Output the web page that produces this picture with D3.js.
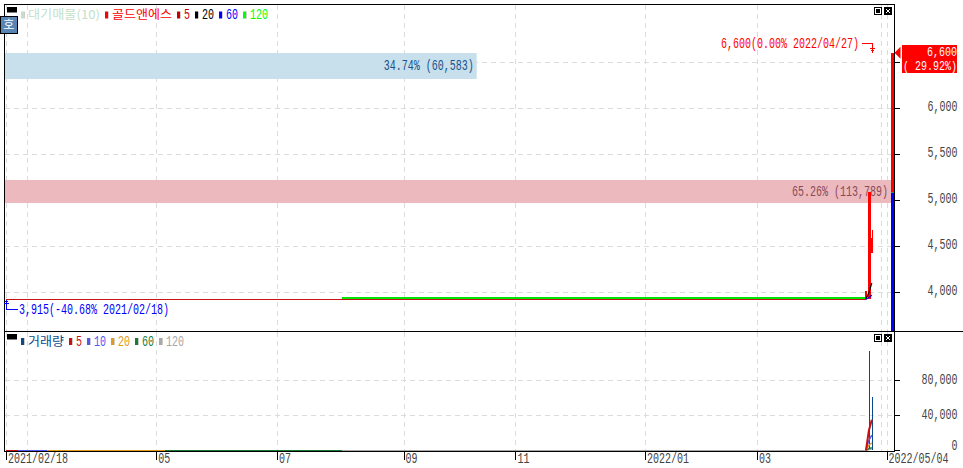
<!DOCTYPE html>
<html><head><meta charset="utf-8">
<style>html,body{margin:0;padding:0;background:#fff}svg{display:block}</style>
<script src="https://cdn.jsdelivr.net/npm/d3@7/dist/d3.min.js"></script>
</head><body><svg id="c" width="963" height="468"></svg>
<script>
// ---- data (x positions are trading-session numbers) ----
const priceTicks = [4000, 4500, 5000, 5500, 6000, 6500];
const priceTickLabels = [4000, 4500, 5000, 5500, 6000];
const volumeTicks = [0, 40000, 80000];
const gridSessions = [0, 7, 51, 92, 135, 173, 217, 255, 297, 299];
const labelSessions = [0, 51, 92, 135, 173, 217, 255, 299];
const dateLabels = ["2021/02/18", "05", "07", "09", "11", "2022/01", "03", "2022/05/04"];

const flatSessions = [0, 292];
const flatPrices = [3915, 3915];
const ma120Sessions = [114, 292];
const ma120Prices = [3926, 3926];
const ma20Sessions = [292, 293, 294];
const ma20Prices = [3915, 3990, 4092];
const ma60Sessions = [292, 293, 294];
const ma60Prices = [3915, 3935, 3960];

const candleSessions = [292, 293, 294];
const candleOpens = [3915, 3915, 4420];
const candleCloses = [4010, 5080, 4583];
const candleHighs = [4010, 5080, 4670];
const candleLows = [3915, 3915, 4420];

const currentUpOpen = 5080, currentUpClose = 6600, currentDownLow = 3500, currentSession = 301;

const bandLows = [6315, 4964];
const bandHighs = [6598, 5215];
const bandVolumes = [60583, 113789];
const bandShares = ["34.74%", "65.26%"];

const volumeSessions = [293, 294];
const volumeValues = [113789, 60583];
const volBaseSessions = [0, 4, 14, 54, 114, 292];
const volMaSessions = [292, 293, 294];
const volMa5 = [0, 22758, 34874];
const volMa10 = [0, 11379, 17437];
const volMa20 = [0, 5689, 8718];
const volMa60 = [0, 1896, 2906];
const volMa120 = [0, 948, 1453];

const highText = "6,600(0.00% 2022/04/27)";
const lowText = "3,915(-40.68% 2021/02/18)";
const lastValue = "6,600", lastChange = "( 29.92%)";
const highPrice = 6600, highSession = 294, lowPrice = 3915, lowSession = 0;

const topLegend = [["대기매물(10)", "#c4e0c8"], ["골드앤에스", "#ff0000"], ["5", "#cc0000"], ["20", "#000000"], ["60", "#0000ff"], ["120", "#00ff00"]];
const bottomLegend = [["거래량", "#0a4a8c"], ["5", "#cc1010"], ["10", "#5058f0"], ["20", "#e09a20"], ["60", "#1a7a3a"], ["120", "#a8a8a8"]];

// ---- scales ----
const x = d3.scaleLinear().domain([0, 300]).range([6, 889.5]);
const y = d3.scaleLinear().domain([4000, 6500]).range([291.5, 62]);
const v = d3.scaleLinear().domain([0, 80000]).range([450.3, 380.3]);
const bandW = d3.scaleLinear().domain([0, 113789]).range([5, 891]);

const L = 4.5, R = 894.5, T = 4.5, S = 331.5, B = 451.5;
const svg = d3.select("#c");
const mono = '"Liberation Mono","DejaVu Sans Mono",monospace';
const cjk = '"Noto Sans CJK KR","Noto Sans",sans-serif';
const textW = s => Array.from(s).reduce((a, ch) => a + (ch.charCodeAt(0) > 255 ? 12 : 6), 0);

function label(sel, s, px, py, color, anchor, size) {
  const isCjk = /[^\x00-\x7f]/.test(s);
  const t = sel.append("text").attr("text-anchor", anchor || "start").attr("fill", color).text(s);
  if (isCjk) {
    t.attr("x", px).attr("y", py + 4.5).attr("font-family", cjk).attr("font-size", 12)
      .attr("textLength", textW(s)).attr("lengthAdjust", "spacingAndGlyphs");
  } else {
    const fs = size || 14;
    t.attr("transform", `translate(${px},${py + 4.5}) scale(${6 / (fs * 0.6)},1)`).attr("font-family", mono).attr("font-size", fs);
  }
  return t;
}
function styleAxisText(sel, px, py, anchor) {
  sel.attr("x", null).attr("y", null).attr("dy", null).attr("text-anchor", anchor)
    .attr("transform", (d, i) => `translate(${px},${typeof py === "function" ? py(d) : py}) scale(${6 / 8.4},1)`)
    .attr("font-family", mono).attr("font-size", 14).attr("fill", "#444");
}

svg.append("defs").append("clipPath").attr("id", "top").append("rect")
  .attr("x", L).attr("y", T).attr("width", R - L).attr("height", S - T);

// grid
const grid = svg.append("g").attr("stroke", "#dcdcdc").attr("stroke-dasharray", "5,4").attr("shape-rendering", "crispEdges");
const gx = d => Math.round(x(d)) + .5;
grid.selectAll(".gx").data(gridSessions).join("line").attr("x1", gx).attr("x2", gx).attr("y1", T).attr("y2", S);
grid.selectAll(".gx2").data(gridSessions).join("line").attr("x1", gx).attr("x2", gx).attr("y1", S).attr("y2", B);
grid.selectAll(".gy").data(priceTicks).join("line").attr("x1", L).attr("x2", R).attr("y1", d => Math.round(y(d)) + .5).attr("y2", d => Math.round(y(d)) + .5);
grid.selectAll(".gv").data(volumeTicks.slice(1)).join("line").attr("x1", L).attr("x2", R).attr("y1", d => Math.round(v(d)) + .5).attr("y2", d => Math.round(v(d)) + .5);

// price-volume bands
const bandFill = ["#c8dfec", "#ecb9bf"], bandText = ["#14528c", "#8a4a55"];
bandVolumes.forEach((vol, i) => {
  svg.append("rect").attr("x", bandW(0)).attr("width", bandW(vol) - bandW(0))
    .attr("y", y(bandHighs[i])).attr("height", y(bandLows[i]) - y(bandHighs[i])).attr("fill", bandFill[i]);
  label(svg, `${bandShares[i]} (${d3.format(",")(vol)})`, bandW(vol) - 3, (y(bandHighs[i]) + y(bandLows[i])) / 2, bandText[i], "end");
});

// price panel
const main = svg.append("g").attr("clip-path", "url(#top)");
const line = (xs, ys, sc) => d3.line().x((d, i) => x(xs[i])).y((d, i) => sc(ys[i]))(ys);
main.append("path").attr("d", line(flatSessions, flatPrices, y)).attr("fill", "none").attr("stroke", "#c81414").attr("stroke-width", 1).attr("shape-rendering", "crispEdges");
main.append("path").attr("d", line(ma120Sessions, ma120Prices, y)).attr("fill", "none").attr("stroke", "#00e600").attr("stroke-width", 2).attr("shape-rendering", "crispEdges");
candleSessions.forEach((s, i) => {
  const px = Math.round(x(s));
  main.append("line").attr("x1", px + .5).attr("x2", px + .5).attr("y1", y(candleHighs[i])).attr("y2", y(candleLows[i])).attr("stroke", "#ff0000").attr("shape-rendering", "crispEdges");
  const w = i === 1 ? 3 : 2;
  main.append("rect").attr("x", px - 1).attr("width", w).attr("y", y(candleCloses[i]))
    .attr("height", y(candleOpens[i]) - y(candleCloses[i])).attr("fill", "#ff0000").attr("shape-rendering", "crispEdges");
});
main.append("path").attr("d", line(ma20Sessions, ma20Prices, y)).attr("fill", "none").attr("stroke", "#000").attr("stroke-width", 1.2);
main.append("path").attr("d", line(ma60Sessions, ma60Prices, y)).attr("fill", "none").attr("stroke", "#0000ff").attr("stroke-width", 1.2);
const cx = Math.round(x(currentSession) - 1.5);
main.append("rect").attr("x", cx).attr("width", 3).attr("y", y(currentUpClose)).attr("height", y(currentUpOpen) - y(currentUpClose)).attr("fill", "#ff0000").attr("shape-rendering", "crispEdges");
main.append("rect").attr("x", cx).attr("width", 3).attr("y", y(currentUpOpen)).attr("height", y(currentDownLow) - y(currentUpOpen)).attr("fill", "#0000ff").attr("shape-rendering", "crispEdges");
main.append("rect").attr("x", cx).attr("width", 3).attr("y", y(currentUpOpen) - .5).attr("height", 1).attr("fill", "#22a050").attr("shape-rendering", "crispEdges");

// volume panel
const volColors = bottomLegend.slice(1).map(d => d[1]);
volBaseSessions.slice(0, -1).forEach((s, i) => {
  svg.append("line").attr("x1", x(s)).attr("x2", x(volBaseSessions[i + 1])).attr("y1", v(0)).attr("y2", v(0)).attr("stroke", volColors[i]).attr("shape-rendering", "crispEdges");
});
volumeSessions.forEach((s, i) => {
  svg.append("rect").attr("x", Math.round(x(s))).attr("width", 1).attr("y", v(volumeValues[i])).attr("height", v(0) - v(volumeValues[i])).attr("fill", "#0a4a8c").attr("shape-rendering", "crispEdges");
});
[volMa120, volMa60, volMa20, volMa10, volMa5].forEach((arr, i) => {
  svg.append("path").attr("d", line(volMaSessions, arr, v)).attr("fill", "none")
    .attr("stroke", volColors[4 - i]).attr("stroke-width", i === 4 ? 2 : 1.4);
});

// frame
const frame = svg.append("g").attr("stroke", "#000").attr("shape-rendering", "crispEdges");
frame.append("rect").attr("x", L).attr("y", T).attr("width", R - L).attr("height", B - T).attr("fill", "none");
frame.append("line").attr("x1", L).attr("x2", 963).attr("y1", S).attr("y2", S);

// axes
const pa = svg.append("g").attr("transform", `translate(${R},0)`)
  .call(d3.axisRight(y).tickValues(priceTicks).tickSize(5).tickFormat(d => priceTickLabels.includes(d) ? d3.format(",")(d) : ""));
const va = svg.append("g").attr("transform", `translate(${R},0)`)
  .call(d3.axisRight(v).tickValues(volumeTicks).tickSize(5).tickFormat(d3.format(",")));
const xa = svg.append("g").attr("transform", `translate(0,${B})`)
  .call(d3.axisBottom(x).tickValues(labelSessions).tickSize(8).tickFormat((d, i) => dateLabels[i]));
[pa, va, xa].forEach(a => { a.select(".domain").remove(); a.selectAll("line").attr("stroke", "#000").attr("shape-rendering", "crispEdges"); });
pa.selectAll("text").call(styleAxisText, 63, 3, "end");
va.selectAll("text").call(styleAxisText, 63, d => (d === 0 ? -1 : 3), "end");
xa.selectAll("text").call(styleAxisText, 1.5, 11, "start");

// annotations
label(svg, highText, 859, 43, "#ff0000", "end");
const hx = Math.round(x(highSession)) + .5;
svg.append("path").attr("d", `M862,43.5H${hx}V${y(highPrice)}`).attr("fill", "none").attr("stroke", "#ff0000").attr("shape-rendering", "crispEdges");
svg.append("path").attr("d", `M${hx - 2.5},48.5H${hx + 2.5}M${hx - 1.5},50.5H${hx + 1.5}`).attr("stroke", "#ff0000").attr("shape-rendering", "crispEdges");
label(svg, lowText, 19, 309, "#0000ff");
const lx = Math.round(x(lowSession)) + .5;
svg.append("path").attr("d", `M18,309.5H${lx}V${y(lowPrice) + 1}`).attr("fill", "none").attr("stroke", "#0000ff").attr("shape-rendering", "crispEdges");
svg.append("path").attr("d", `M${lx - 2.5},303.5H${lx + 2.5}M${lx - 1.5},301.5H${lx + 1.5}`).attr("stroke", "#0000ff").attr("shape-rendering", "crispEdges");

// current price tag
svg.append("path").attr("d", d3.line()([[894.5, y(highPrice)], [900.5, y(highPrice) - 6], [900.5, y(highPrice) + 6]])).attr("fill", "#ff0000");
svg.append("rect").attr("x", 902).attr("y", 45).attr("width", 55).attr("height", 28).attr("fill", "#ff0000");
label(svg, lastValue, 957, 51, "#fff", "end", 12);
label(svg, lastChange, 957, 65, "#fff", "end", 12);

// legends
function legend(items, py, xs) {
  items.forEach((d, i) => {
    svg.append("rect").attr("x", xs[i] + 3).attr("y", py - 3).attr("width", 1).attr("height", 7).attr("fill", "#ccc");
    svg.append("rect").attr("x", xs[i]).attr("y", py - 3).attr("width", 3).attr("height", 7).attr("fill", d[1]);
    label(svg, d[0], xs[i] + 7, py, d[1]);
  });
}
legend(topLegend, 14.5, [21, 105, 177, 195, 219, 243]);
legend(bottomLegend, 341, [21, 69, 87, 111, 135, 159]);

// window widgets
function widgets(py) {
  svg.append("rect").attr("x", 7).attr("y", py).attr("width", 10).attr("height", 5.5).attr("fill", "#000");
  svg.append("rect").attr("x", 874.5).attr("y", py + .5).attr("width", 7).attr("height", 7).attr("fill", "#fff").attr("stroke", "#000").attr("shape-rendering", "crispEdges");
  svg.append("rect").attr("x", 876).attr("y", py + 2).attr("width", 4).attr("height", 4).attr("fill", "#000");
  svg.append("rect").attr("x", 884).attr("y", py).attr("width", 8).attr("height", 8).attr("fill", "#000");
  svg.append("path").attr("d", `M886,${py + 2}l4,4M890,${py + 2}l-4,4`).attr("stroke", "#fff");
}
widgets(7);
widgets(334);
svg.append("rect").attr("x", .5).attr("y", 16.5).attr("width", 16.5).attr("height", 16.5).attr("fill", "#5a84b4").attr("stroke", "#000").attr("shape-rendering", "crispEdges");
svg.append("text").attr("x", 8.7).attr("y", 29).attr("text-anchor", "middle").attr("fill", "#fff").attr("font-family", cjk).attr("font-size", 12).text("호");
</script></body></html>
